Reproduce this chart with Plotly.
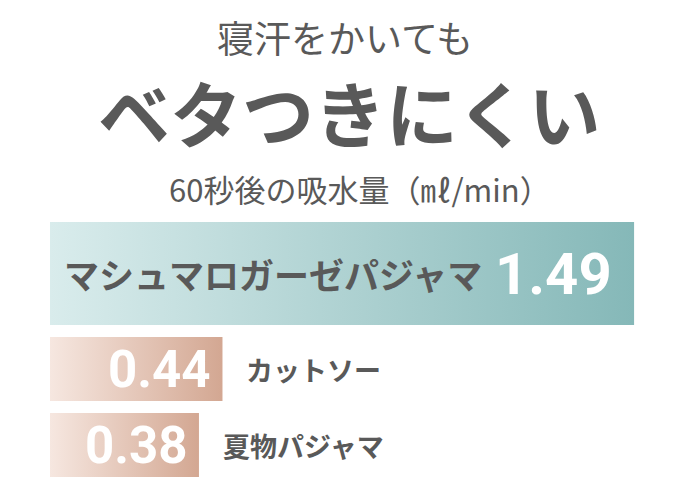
import plotly.graph_objects as go

# 60秒後の吸水量 (ml/min)
products = ['マシュマロガーゼパジャマ', 'カットソー', '夏物パジャマ']
values = [1.49, 0.44, 0.38]
value_labels = ['1.49', '0.44', '0.38']

# レイアウト用（ピクセル基準の縦位置と太さ）
bar_center = [273.5, 369, 445]
bar_height = [103, 64, 64]
gradients = [
    [[0, '#d9ecec'], [1, '#85b8b8']],
    [[0, '#f6e7e0'], [1, '#d3a792']],
    [[0, '#f6e7e0'], [1, '#d3a792']],
]

GRAY = '#595959'
NUM_FONT = 'Liberation Sans Narrow, Roboto, Arial, sans-serif'
JP_FONT = 'Noto Sans CJK JP, sans-serif'

fig = go.Figure()

for name, v, c, h, cs in zip(products, values, bar_center, bar_height, gradients):
    top, bottom = c - h / 2, c + h / 2
    fig.add_trace(go.Scatter(
        x=[0, v, v, 0, 0],
        y=[top, top, bottom, bottom, top],
        mode='lines',
        line=dict(width=0),
        fill='toself',
        fillgradient=dict(type='horizontal', colorscale=cs),
        name=name,
        hoverinfo='skip',
        showlegend=False,
    ))

# 1本目: ラベルはバーの中、数値は右端
fig.add_annotation(x=0.03, y=bar_center[0], text=products[0], showarrow=False,
                   xanchor='left', yanchor='middle',
                   font=dict(family=JP_FONT, size=35, color=GRAY, weight='bold'))
fig.add_annotation(x=values[0], y=bar_center[0], text=value_labels[0], showarrow=False,
                   xanchor='right', yanchor='middle', xshift=-20,
                   font=dict(family=NUM_FONT, size=58, color='white', weight='bold'))

# 2・3本目: 数値はバーの中、ラベルはバーの外
for i in (1, 2):
    fig.add_annotation(x=values[i], y=bar_center[i], text=value_labels[i], showarrow=False,
                       xanchor='right', yanchor='middle', xshift=-9,
                       font=dict(family=NUM_FONT, size=51, color='white', weight='bold'))
    fig.add_annotation(x=values[i], y=bar_center[i], text=products[i], showarrow=False,
                       xanchor='left', yanchor='middle', xshift=22,
                       font=dict(family=JP_FONT, size=27, color=GRAY, weight='bold'))

# 見出し
fig.add_annotation(xref='paper', yref='y', x=0.457, y=37, text='寝汗をかいても',
                   showarrow=False, font=dict(family=JP_FONT, size=37, color=GRAY))
fig.add_annotation(xref='paper', yref='y', x=0.465, y=110, text='ベタつきにくい',
                   showarrow=False, font=dict(family=JP_FONT, size=72, color=GRAY, weight='bold'))
fig.add_annotation(xref='paper', yref='y', x=0.48, y=188, text='60秒後の吸水量（㎖/min）',
                   showarrow=False, font=dict(family=JP_FONT, size=31, color=GRAY))

fig.update_layout(
    width=695, height=482,
    margin=dict(l=50, r=0, t=0, b=0),
    plot_bgcolor='white',
    paper_bgcolor='white',
    xaxis=dict(range=[0, 645 / 392], visible=False, fixedrange=True),
    yaxis=dict(range=[482, 0], visible=False, fixedrange=True),
)

fig.write_html('out.html', config={'displayModeBar': False},
               post_script="document.body.style.margin='0';")
